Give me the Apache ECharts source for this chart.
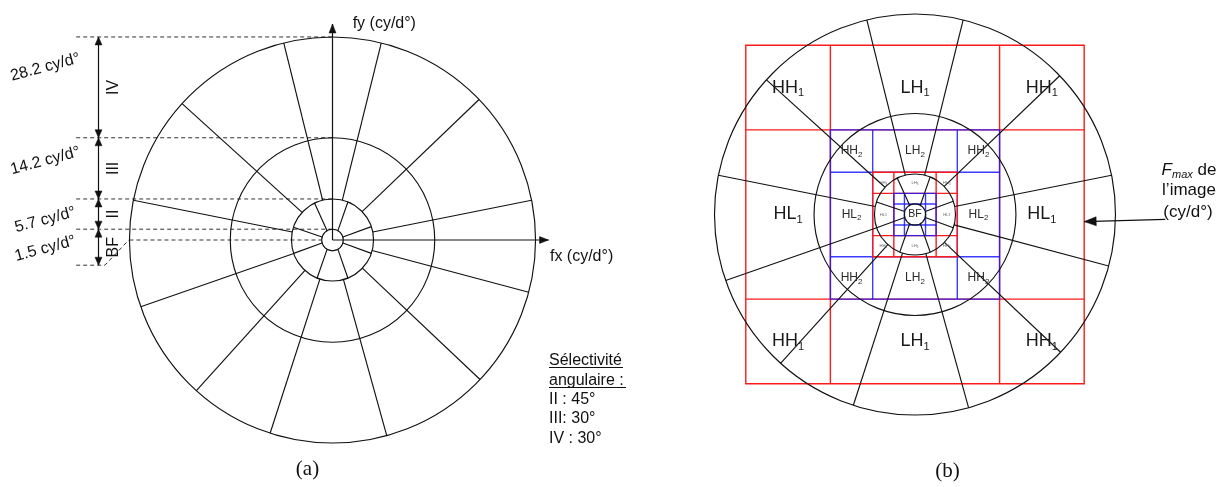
<!DOCTYPE html>
<html>
<head>
<meta charset="utf-8">
<script src="https://cdn.jsdelivr.net/npm/echarts@6/dist/echarts.min.js"></script>
<style>
html, body { margin: 0; padding: 0; background: #fff; }
#chart { width: 1224px; height: 487px; }
</style>
</head>
<body>
<div id="chart"></div>
<script>
// ring limits (cy/d°)
var radii = [1.5, 5.7, 14.2, 28.2];
var radiusLabels = ['1.5 cy/d°', '5.7 cy/d°', '14.2 cy/d°', '28.2 cy/d°'];
var bandNames = ['BF', 'II', 'III', 'IV'];
// spokes of ring II : angle at inner circle, angle at outer circle (deg)
var ring2Inner = [16, 60, 120, 164, 196, 240, 300, 344];
var ring2Outer = [19, 68, 116, 162, 199, 248, 292, 341];
// spokes of rings III and IV (deg)
var ring34Angles = [11.3, 43.8, 76.1, 103.9, 137.8, 168.7, 199.2, 227.9, 252.1, 285.5, 316.6, 345.1];
var selectivity = ['II : 45°', 'III: 30°', 'IV : 30°'];
// wavelet squares of (b), half side per level (cy/d°)
var levelHalf = [23.8, 11.9, 5.95, 2.97];
var levelColors = ['#ff1a1a', '#1a1aff', '#ff1a1a', '#1a1aff'];

// placement of the annotations of (a), in cy/d°
var dashLeft = -35.6;
var bfArrowEnd = -3.5;
var bandArrowX = -32.5;
var bandLabelX = -30.6;
var radiusLabelX = -39.9;
var radiusLabelY = [-1.2, 2.8, 11, 24];
var axisLen = 30;
// placement of the Fmax arrow of (b)
var fmaxArrow = [35.2, -0.68, 23.8, -1.0];

var FONT = '"Liberation Sans", Arial, sans-serif';
var INK = '#111';

function polar(api, ang, r) {
  var a = ang * Math.PI / 180;
  return api.coord([r * Math.cos(a), r * Math.sin(a)]);
}
function seg(p, q, st) {
  return { type: 'line', shape: { x1: p[0], y1: p[1], x2: q[0], y2: q[1] }, style: st };
}
function head(tip, from, len, wid) {
  var dx = tip[0] - from[0], dy = tip[1] - from[1];
  var d = Math.sqrt(dx * dx + dy * dy);
  var ux = dx / d, uy = dy / d;
  var bx = tip[0] - ux * len, by = tip[1] - uy * len;
  return {
    type: 'polygon',
    shape: { points: [tip, [bx - uy * wid / 2, by + ux * wid / 2], [bx + uy * wid / 2, by - ux * wid / 2]] },
    style: { fill: INK, stroke: INK, lineWidth: 0.5 }
  };
}
function lineStyle(w) {
  return { stroke: INK, lineWidth: w || 1.1, fill: 'none' };
}
function txt(p, text, size, opts) {
  opts = opts || {};
  return {
    type: 'text', x: p[0], y: p[1], rotation: opts.rotation || 0,
    style: {
      text: text, fontSize: size, fontFamily: FONT, fill: opts.color || INK,
      align: opts.align || 'center', verticalAlign: 'middle', rich: opts.rich
    }
  };
}
function idx(arr) {
  return arr.map(function (d, i) { return [i]; });
}

// circles and spokes, common to both panels
function wheelSeries(g) {
  return [{
    type: 'custom', xAxisIndex: g, yAxisIndex: g, z: 3, silent: true,
    data: idx(radii),
    renderItem: function (params, api) {
      var c = api.coord([0, 0]);
      var r = api.size([radii[params.dataIndex], 0])[0];
      return { type: 'circle', shape: { cx: c[0], cy: c[1], r: r }, style: lineStyle(1.15) };
    }
  }, {
    type: 'custom', xAxisIndex: g, yAxisIndex: g, z: 3, silent: true,
    data: idx(ring2Inner),
    renderItem: function (params, api) {
      var i = params.dataIndex;
      return seg(polar(api, ring2Inner[i], radii[0]), polar(api, ring2Outer[i], radii[1]), lineStyle(1.15));
    }
  }, {
    type: 'custom', xAxisIndex: g, yAxisIndex: g, z: 3, silent: true,
    data: idx(ring34Angles),
    renderItem: function (params, api) {
      var a = ring34Angles[params.dataIndex];
      return seg(polar(api, a, radii[1]), polar(api, a, radii[3]), lineStyle(1.15));
    }
  }];
}

// panel (a) : axes, dashed guides, band arrows and labels
var dashed = radii.map(function (r) { return [[dashLeft, r], [0, r]]; });
dashed.push([[-radii[3], 0], [-radii[0], 0]]);
dashed.push([[dashLeft, bfArrowEnd], [-31.6, bfArrowEnd], [-radii[3] - 0.1, 0]]);

var bands = [];
for (var b = 0; b < radii.length; b++) {
  bands.push([b === 0 ? bfArrowEnd : radii[b - 1], radii[b], bandNames[b]]);
}

var seriesA = wheelSeries(0).concat([{
  type: 'custom', xAxisIndex: 0, yAxisIndex: 0, z: 3, silent: true,
  data: [[axisLen, 0], [0, axisLen]],
  renderItem: function (params, api) {
    var c = api.coord([0, 0]);
    var p = api.coord([api.value(0), api.value(1)]);
    return { type: 'group', children: [seg(c, p, lineStyle(1.2)), head(p, c, 9, 7)] };
  }
}, {
  type: 'custom', xAxisIndex: 0, yAxisIndex: 0, z: 2, silent: true,
  data: idx(dashed),
  renderItem: function (params, api) {
    var pts = dashed[params.dataIndex].map(function (d) { return api.coord(d); });
    return { type: 'polyline', shape: { points: pts }, style: { stroke: '#333', lineWidth: 1, lineDash: [4, 3], fill: 'none' } };
  }
}, {
  type: 'custom', xAxisIndex: 0, yAxisIndex: 0, z: 3, silent: true,
  data: idx(bands),
  renderItem: function (params, api) {
    var bd = bands[params.dataIndex];
    var lo = api.coord([bandArrowX, bd[0]]), hi = api.coord([bandArrowX, bd[1]]);
    var lp = api.coord([bandLabelX, (bd[0] + bd[1]) / 2]);
    return { type: 'group', children: [
      seg(lo, hi, lineStyle(1.2)), head(hi, lo, 8, 7), head(lo, hi, 8, 7),
      txt([lp[0] + 1, lp[1]], bd[2], 16, { rotation: Math.PI / 2 })
    ] };
  }
}, {
  type: 'custom', xAxisIndex: 0, yAxisIndex: 0, z: 3, silent: true,
  data: idx(radiusLabels),
  renderItem: function (params, api) {
    var p = api.coord([radiusLabelX, radiusLabelY[params.dataIndex]]);
    return txt(p, radiusLabels[params.dataIndex], 16, { rotation: 15 * Math.PI / 180 });
  }
}, {
  type: 'custom', xAxisIndex: 0, yAxisIndex: 0, z: 3, silent: true,
  data: [[30.2, -2.3], [2.8, 30]],
  renderItem: function (params, api) {
    var p = api.coord([api.value(0), api.value(1)]);
    return txt(p, params.dataIndex === 0 ? 'fx (cy/d°)' : 'fy (cy/d°)', 16, { align: 'left' });
  }
}]);

// panel (b) : wavelet squares and sub-band names
var subbands = [];
for (var k = 0; k < 3; k++) {
  for (var i = -1; i <= 1; i++) {
    for (var j = -1; j <= 1; j++) {
      if (i === 0 && j === 0) continue;
      var nm = (i !== 0 && j !== 0) ? 'HH' : (i === 0 ? 'LH' : 'HL');
      subbands.push([i * 0.75 * levelHalf[k], j * 0.75 * levelHalf[k], nm, k]);
    }
  }
}
var subFont = [[18, 11, '#1a1a1a'], [12, 8, '#2a2a2a'], [4.2, 3, '#666']];

var seriesB = [{
  type: 'custom', xAxisIndex: 1, yAxisIndex: 1, z: 1, silent: true,
  data: idx(levelHalf),
  renderItem: function (params, api) {
    var n = params.dataIndex, h = levelHalf[n], q = h / 2;
    function st() {
      return { stroke: levelColors[n], lineWidth: 1.4, fill: 'none', opacity: n % 2 ? 0.85 : 1 };
    }
    var tl = api.coord([-h, h]), br = api.coord([h, -h]);
    var ch = [{ type: 'rect', shape: { x: tl[0], y: tl[1], width: br[0] - tl[0], height: br[1] - tl[1] }, style: st() }];
    [-q, q].forEach(function (v) {
      ch.push(seg(api.coord([v, -h]), api.coord([v, h]), st()));
      ch.push(seg(api.coord([-h, v]), api.coord([h, v]), st()));
    });
    return { type: 'group', children: ch };
  }
}].concat(wheelSeries(1)).concat([{
  type: 'custom', xAxisIndex: 1, yAxisIndex: 1, z: 4, silent: true,
  data: idx(subbands),
  renderItem: function (params, api) {
    var sb = subbands[params.dataIndex], f = subFont[sb[3]];
    var p = api.coord([sb[0], sb[1]]);
    return txt(p, '{m|' + sb[2] + '}{s|' + (sb[3] + 1) + '}', f[0], {
      rich: {
        m: { fontSize: f[0], fontFamily: FONT, fill: f[2], color: f[2], lineHeight: f[0] * 1.25, verticalAlign: 'middle' },
        s: { fontSize: f[1], fontFamily: FONT, fill: f[2], color: f[2], lineHeight: f[1], verticalAlign: 'bottom' }
      }
    });
  }
}, {
  type: 'custom', xAxisIndex: 1, yAxisIndex: 1, z: 4, silent: true,
  data: [[0, 0]],
  renderItem: function (params, api) {
    return txt(api.coord([0, 0]), 'BF', 10.5, { color: '#222' });
  }
}, {
  type: 'custom', xAxisIndex: 1, yAxisIndex: 1, z: 4, silent: true,
  data: [fmaxArrow],
  renderItem: function (params, api) {
    var from = api.coord([api.value(0), api.value(1)]);
    var tip = api.coord([api.value(2), api.value(3)]);
    return { type: 'group', children: [seg(from, tip, lineStyle(1.2)), head(tip, from, 12, 9)] };
  }
}]);

var chart = echarts.init(document.getElementById('chart'));
chart.setOption({
  animation: false,
  backgroundColor: '#fff',
  grid: [
    { left: 8.5, top: 2.4, width: 612, height: 475.2 },
    { left: 701.7, top: 1.2, width: 519, height: 426.6 }
  ],
  xAxis: [
    { gridIndex: 0, type: 'value', min: -45, max: 40, show: false },
    { gridIndex: 1, type: 'value', min: -30, max: 43, show: false }
  ],
  yAxis: [
    { gridIndex: 0, type: 'value', min: -33, max: 33, show: false },
    { gridIndex: 1, type: 'value', min: -30, max: 30, show: false }
  ],
  series: seriesA.concat(seriesB),
  graphic: [
    { type: 'text', x: 549, y: 360.7, style: { text: 'Sélectivité', fontSize: 16, fontFamily: FONT, fill: INK, verticalAlign: 'middle' } },
    { type: 'text', x: 549, y: 380.2, style: { text: 'angulaire :', fontSize: 16, fontFamily: FONT, fill: INK, verticalAlign: 'middle' } },
    { type: 'line', shape: { x1: 549, y1: 367.5, x2: 623, y2: 367.5 }, style: { stroke: INK, lineWidth: 1 } },
    { type: 'line', shape: { x1: 549, y1: 387.5, x2: 626, y2: 387.5 }, style: { stroke: INK, lineWidth: 1 } },
    { type: 'text', x: 549, y: 399.2, style: { text: selectivity[0], fontSize: 16, fontFamily: FONT, fill: INK, verticalAlign: 'middle' } },
    { type: 'text', x: 549, y: 418.7, style: { text: selectivity[1], fontSize: 16, fontFamily: FONT, fill: INK, verticalAlign: 'middle' } },
    { type: 'text', x: 549, y: 438.2, style: { text: selectivity[2], fontSize: 16, fontFamily: FONT, fill: INK, verticalAlign: 'middle' } },
    { type: 'text', x: 307.5, y: 469.5, style: { text: '(a)', fontSize: 21, fontFamily: '"Liberation Serif", serif', fill: INK, align: 'center', verticalAlign: 'middle' } },
    { type: 'text', x: 947.5, y: 471, style: { text: '(b)', fontSize: 21, fontFamily: '"Liberation Serif", serif', fill: INK, align: 'center', verticalAlign: 'middle' } },
    { type: 'text', x: 1189, y: 170, style: {
      text: '{i|F}{s|max}{n| de}', align: 'center', verticalAlign: 'middle',
      rich: {
        i: { fontSize: 17, fontStyle: 'italic', fontFamily: FONT, fill: INK, lineHeight: 21, verticalAlign: 'middle' },
        s: { fontSize: 11, fontStyle: 'italic', fontFamily: FONT, fill: INK, lineHeight: 11, verticalAlign: 'bottom' },
        n: { fontSize: 17, fontFamily: FONT, fill: INK, lineHeight: 21, verticalAlign: 'middle' }
      } } },
    { type: 'text', x: 1189, y: 190.5, style: { text: 'l’image', fontSize: 17, fontFamily: FONT, fill: INK, align: 'center', verticalAlign: 'middle' } },
    { type: 'text', x: 1188, y: 212, style: { text: '(cy/d°)', fontSize: 17, fontFamily: FONT, fill: INK, align: 'center', verticalAlign: 'middle' } }
  ]
});
</script>
</body>
</html>
